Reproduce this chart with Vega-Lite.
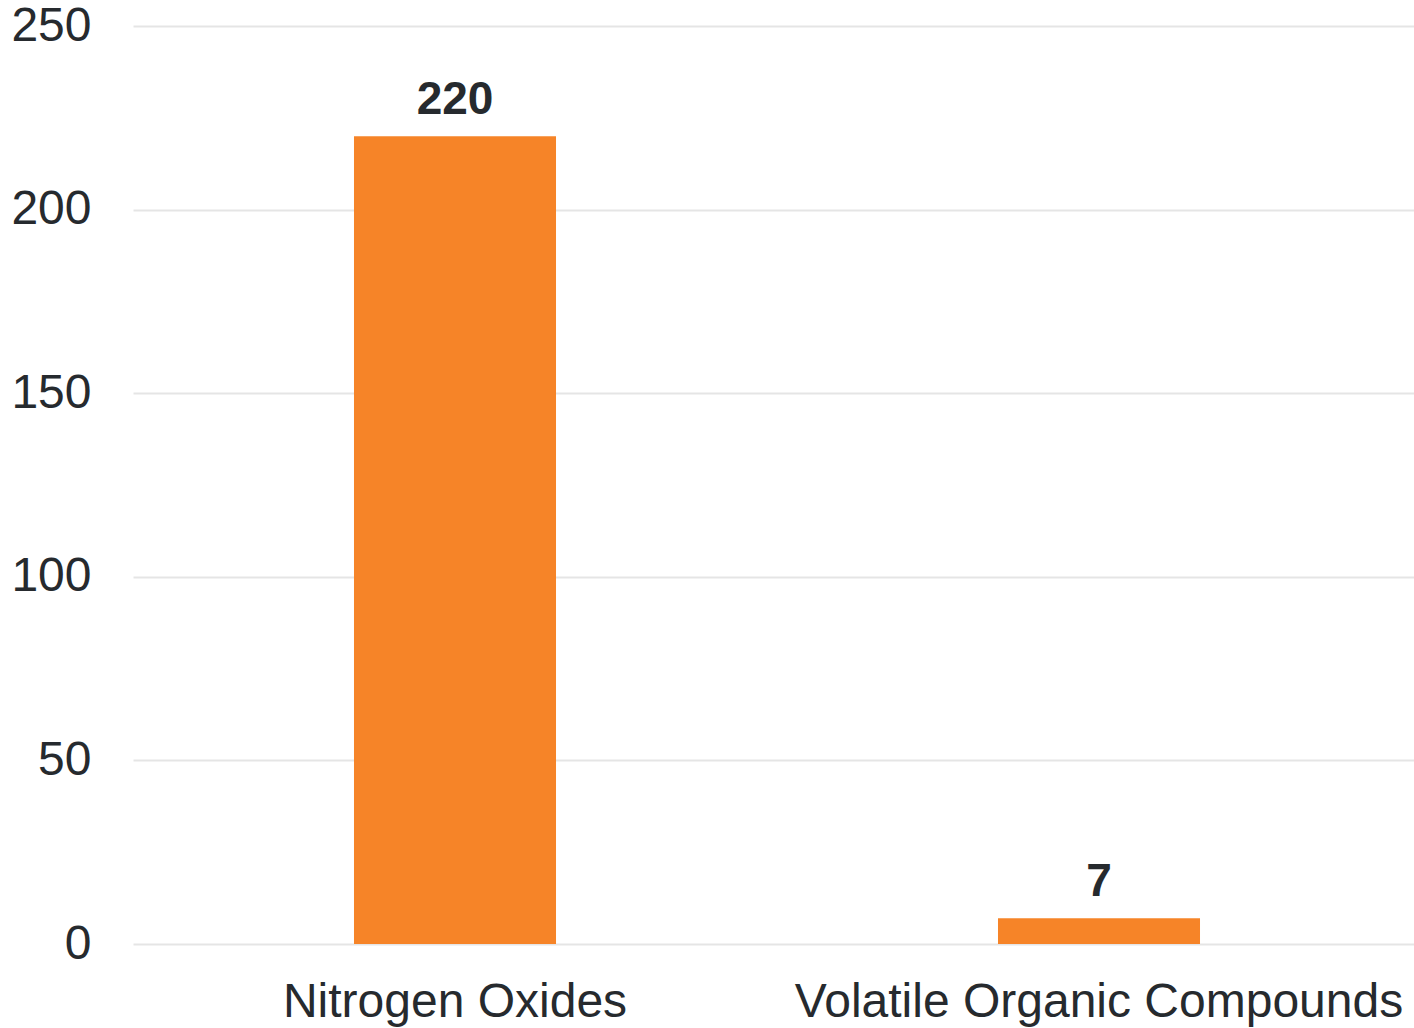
{
  "$schema": "https://vega.github.io/schema/vega-lite/v6.json",
  "autosize": "none",
  "width": 1288,
  "height": 918,
  "padding": {"left": 133, "top": 26, "right": 0, "bottom": 84},
  "background": "white",
  "config": {
    "view": {"stroke": null},
    "font": "Liberation Sans"
  },
  "data": {
    "values": [
      {"pollutant": "Nitrogen Oxides", "value": 220},
      {"pollutant": "Volatile Organic Compounds", "value": 7}
    ]
  },
  "encoding": {
    "x": {
      "field": "pollutant",
      "type": "nominal",
      "sort": null,
      "scale": {"paddingInner": 0, "paddingOuter": 0},
      "axis": {
        "title": null,
        "labelAngle": 0,
        "labelFontSize": 48,
        "labelColor": "#262a2e",
        "labelFont": "Liberation Sans",
        "labelPadding": 34,
        "labelLimit": 0,
        "labelOverlap": false,
        "ticks": false,
        "domain": false,
        "grid": false
      }
    },
    "y": {
      "field": "value",
      "type": "quantitative",
      "scale": {"domain": [0, 250]},
      "axis": {
        "title": null,
        "values": [0, 50, 100, 150, 200, 250],
        "labelFontSize": 48,
        "labelColor": "#262a2e",
        "labelFont": "Liberation Sans",
        "labelPadding": 42,
        "ticks": false,
        "domain": false,
        "grid": true,
        "gridColor": "#e5e5e5",
        "gridWidth": 2
      }
    }
  },
  "layer": [
    {
      "mark": {"type": "bar", "color": "#f68428", "width": {"band": 0.3137}}
    },
    {
      "mark": {
        "type": "text",
        "baseline": "bottom",
        "dy": -12,
        "fontSize": 46,
        "fontWeight": "bold",
        "color": "#262a2e",
        "font": "Liberation Sans"
      },
      "encoding": {"text": {"field": "value", "type": "quantitative"}}
    }
  ]
}
